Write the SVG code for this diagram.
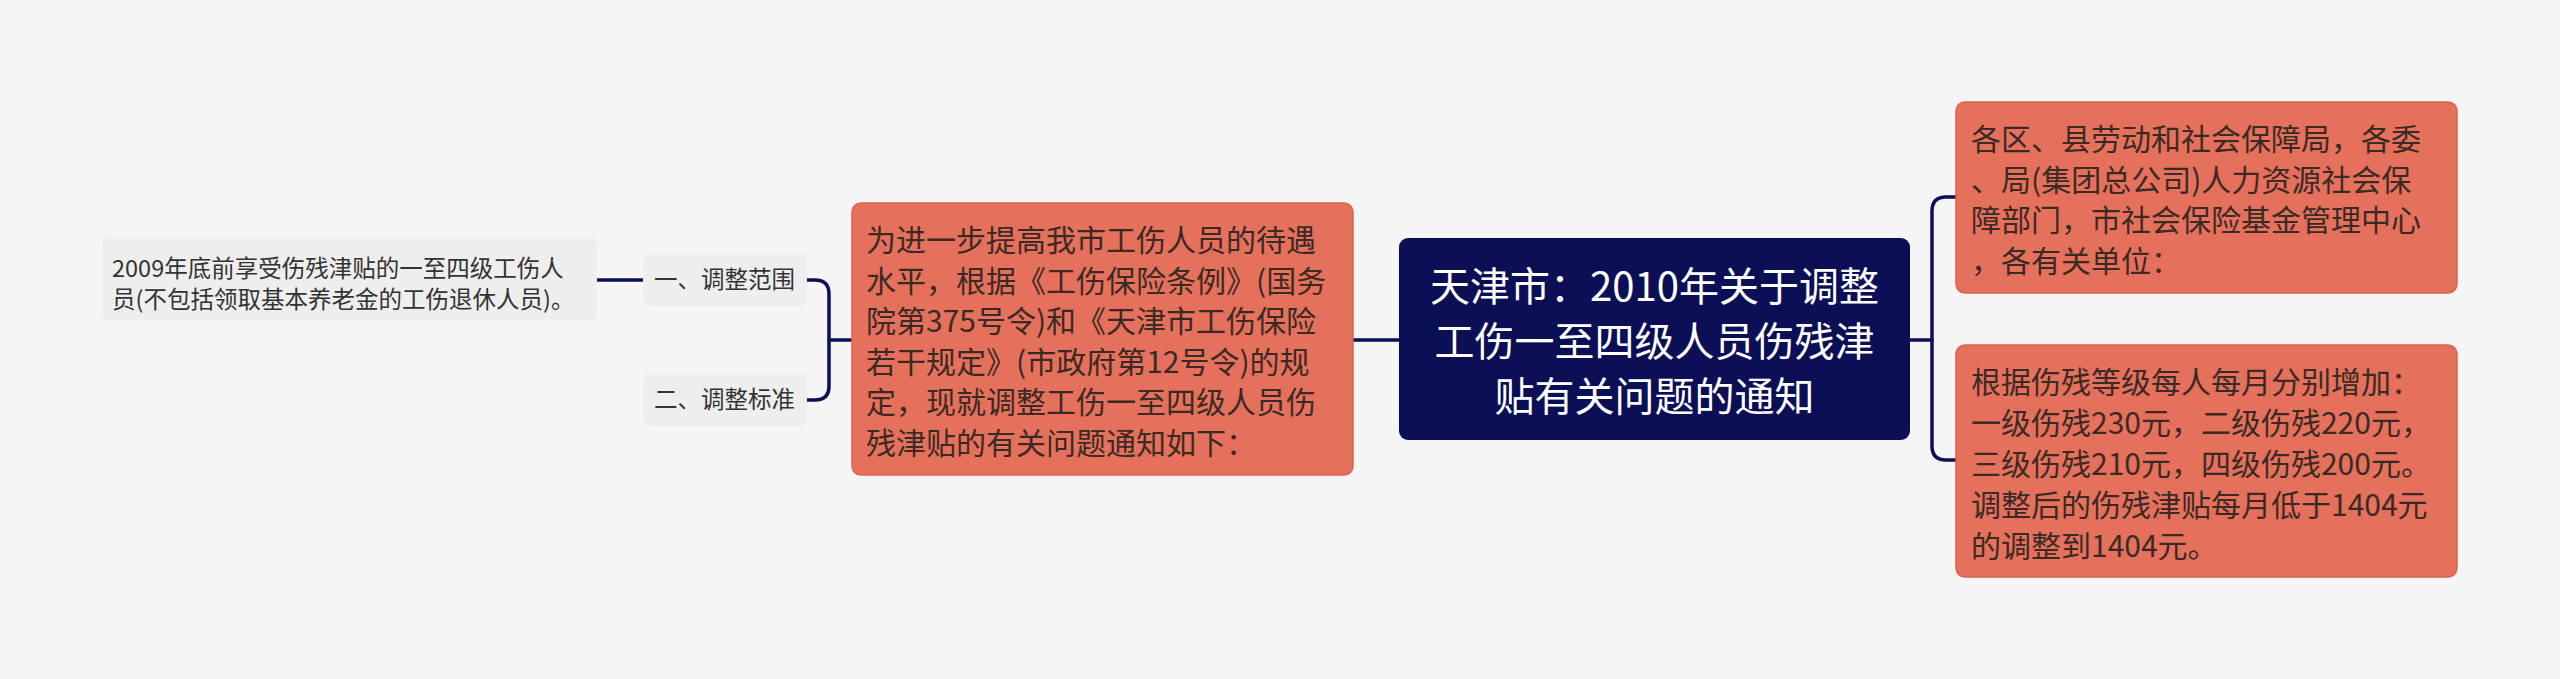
<svg xmlns="http://www.w3.org/2000/svg" width="2560" height="679" viewBox="0 0 2560 679">
<style>
.t{font-family:"Noto Sans CJK SC","Noto Sans",sans-serif;}
.main{fill:#0b0f55;}
.sub{fill:#e5705b;stroke:#d8644f;stroke-width:1.5;}
.leaf{fill:#eeeeee;}
.tw{fill:#ffffff;font-size:40px;}
.to{fill:#3a2a26;font-size:30px;}
.tl{fill:#333333;font-size:23.5px;}
.con{fill:none;stroke:#0b0f55;stroke-width:3.5;stroke-linecap:round;}
</style>
<rect x="0" y="0" width="2560" height="679" fill="#f5f5f5"/>
<g id="connectors">
<path class="con" d="M1353 340 H1399"/>
<path class="con" d="M1910 340 H1932"/>
<path class="con" d="M1956 197 H1946 Q1932 197 1932 211 V446 Q1932 460 1946 460 H1956"/>
<path class="con" d="M829 340 H851"/>
<path class="con" d="M807 280 H815 Q829 280 829 294 V386 Q829 400 815 400 H807"/>
<path class="con" d="M597 280 H643"/>
</g>
<g id="center">
<rect class="main" x="1399" y="238" width="511" height="202" rx="9"/>
<text class="t tw" text-anchor="middle"><tspan x="1654.5" y="301">天津市：2010年关于调整</tspan><tspan x="1654.5" y="356">工伤一至四级人员伤残津</tspan><tspan x="1654.5" y="411">贴有关问题的通知</tspan></text>
</g>
<g id="intro">
<rect class="sub" x="852" y="203" width="501" height="272" rx="9"/>
<text class="t to"><tspan x="866" y="251">为进一步提高我市工伤人员的待遇</tspan><tspan x="866" y="291.5">水平，根据《工伤保险条例》(国务</tspan><tspan x="866" y="332">院第375号令)和《天津市工伤保险</tspan><tspan x="866" y="372.5">若干规定》(市政府第12号令)的规</tspan><tspan x="866" y="413">定，现就调整工伤一至四级人员伤</tspan><tspan x="866" y="453.5">残津贴的有关问题通知如下：</tspan></text>
</g>
<g id="recipients">
<rect class="sub" x="1956" y="102" width="501" height="191" rx="9"/>
<text class="t to"><tspan x="1971" y="150">各区、县劳动和社会保障局，各委</tspan><tspan x="1971" y="190.5">、局(集团总公司)人力资源社会保</tspan><tspan x="1971" y="231">障部门，市社会保险基金管理中心</tspan><tspan x="1971" y="272">，各有关单位：</tspan></text>
</g>
<g id="standard-detail">
<rect class="sub" x="1956" y="345" width="501" height="232" rx="9"/>
<text class="t to"><tspan x="1971" y="393">根据伤残等级每人每月分别增加：</tspan><tspan x="1971" y="434">一级伤残230元，二级伤残220元，</tspan><tspan x="1971" y="475">三级伤残210元，四级伤残200元。</tspan><tspan x="1971" y="516">调整后的伤残津贴每月低于1404元</tspan><tspan x="1971" y="557">的调整到1404元。</tspan></text>
</g>
<g id="scope">
<rect class="leaf" x="643" y="253" width="164" height="53" rx="8"/>
<text class="t tl" x="654" y="288">一、调整范围</text>
</g>
<g id="standard">
<rect class="leaf" x="643" y="373" width="164" height="53" rx="8"/>
<text class="t tl" x="654" y="408">二、调整标准</text>
</g>
<g id="scope-detail">
<rect class="leaf" x="102" y="237" width="495" height="84" rx="8"/>
<text class="t tl"><tspan x="112" y="277">2009年底前享受伤残津贴的一至四级工伤人</tspan><tspan x="112" y="308">员(不包括领取基本养老金的工伤退休人员)。</tspan></text>
</g>
</svg>
